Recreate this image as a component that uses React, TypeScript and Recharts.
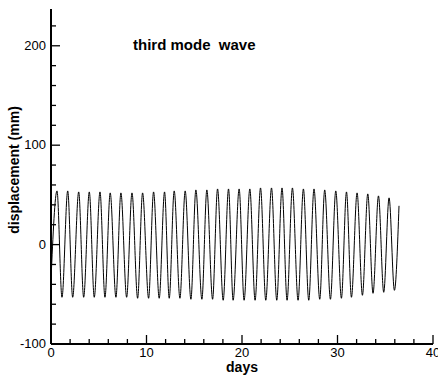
import React from 'react';
import { LineChart, Line, XAxis, YAxis } from 'recharts';

// extrema (day, displacement in mm)
const startDay = 0;
const startValue = -35;
const peakDays = [
  0.63, 1.75, 2.9, 4.01, 5.13, 6.2, 7.32, 8.48, 9.59, 10.74, 11.89, 12.9, 14.05, 15.17, 16.32, 17.44,
  18.59, 19.7, 20.82, 21.94, 23.09, 24.19, 25.28, 26.43, 27.54, 28.66, 29.82, 30.94, 32.05, 33.17, 34.29, 35.4,
];
const peakValues = [
  54, 54, 53, 53, 53, 52, 52, 52, 52, 53, 53, 54, 54, 55, 55, 56,
  56, 56, 56, 57, 57, 57, 57, 56, 56, 55, 54, 53, 52, 51, 49, 47,
];
const troughDays = [
  1.15, 2.27, 3.42, 4.53, 5.65, 6.8, 7.92, 9.07, 10.22, 11.33, 12.38, 13.5, 14.65, 15.8, 16.92, 18.03,
  19.07, 20.22, 21.37, 22.49, 23.64, 24.72, 25.87, 26.99, 28.14, 29.26, 30.41, 31.46, 32.61, 33.72, 34.84, 35.96,
];
const troughValues = [
  -53, -53, -53, -53, -53, -53, -53, -54, -54, -54, -54, -54, -55, -55, -55, -56,
  -56, -56, -56, -56, -56, -56, -56, -56, -55, -55, -54, -53, -51, -49, -48, -46,
];
const endDay = 36.44;
const endValue = 39;

const xTicks = [0, 2, 4, 6, 8, 10, 12, 14, 16, 18, 20, 22, 24, 26, 28, 30, 32, 34, 36, 38, 40];
const yTicks = [-100, -80, -60, -40, -20, 0, 20, 40, 60, 80, 100, 120, 140, 160, 180, 200, 220];

const points = [
  { day: startDay, disp: startValue },
  ...peakDays.map((d, i) => ({ day: d, disp: peakValues[i] })),
  ...troughDays.map((d, i) => ({ day: d, disp: troughValues[i] })),
  { day: endDay, disp: endValue },
].sort((a, b) => a.day - b.day);

const font = '"Liberation Sans", Arial, sans-serif';

const YTick = (props: any) => {
  const { x, y, payload } = props;
  const major = payload.value % 100 === 0;
  return (
    <g>
      <line x1={x} x2={x + (major ? 9 : 5)} y1={y} y2={y} stroke="#000" strokeWidth={1.3} />
      {major && (
        <text x={x - 5} y={y + 4} textAnchor="end" fontSize={13} fontFamily={font} fill="#000">
          {payload.value}
        </text>
      )}
    </g>
  );
};

const XTick = (props: any) => {
  const { x, y, payload } = props;
  const major = payload.value % 10 === 0;
  return (
    <g>
      <line x1={x} x2={x} y1={y} y2={y - (major ? 9 : 5)} stroke="#000" strokeWidth={1.3} />
      {major && (
        <text x={x} y={y + 13} textAnchor="middle" fontSize={13} fontFamily={font} fill="#000">
          {payload.value}
        </text>
      )}
    </g>
  );
};

export default function App() {
  return (
    <div style={{ position: 'absolute', left: 0, top: 0, width: 438, height: 381, background: '#fff' }}>
      <LineChart width={438} height={381} data={points} margin={{ top: 9, right: 5, left: 0, bottom: 0 }}>
        <XAxis
          dataKey="day"
          type="number"
          domain={[0, 40]}
          ticks={xTicks}
          interval={0}
          tickSize={0}
          tickMargin={0}
          height={37}
          tick={<XTick />}
          axisLine={{ stroke: '#000', strokeWidth: 2 }}
          tickLine={false}
        />
        <YAxis
          type="number"
          domain={[-100, 237]}
          ticks={yTicks}
          interval={0}
          tickSize={0}
          tickMargin={0}
          width={51}
          tick={<YTick />}
          axisLine={{ stroke: '#000', strokeWidth: 2 }}
          tickLine={false}
          allowDataOverflow
        />
        <Line
          type="monotone"
          dataKey="disp"
          stroke="#000"
          strokeWidth={1}
          dot={false}
          isAnimationActive={false}
        />
      </LineChart>
      <div
        style={{
          position: 'absolute', left: 133, top: 36, fontFamily: font, fontWeight: 'bold',
          fontSize: 15, whiteSpace: 'pre', color: '#000',
        }}
      >
        third mode  wave
      </div>
      <div
        style={{
          position: 'absolute', left: 242, top: 359, transform: 'translateX(-50%)', fontFamily: font,
          fontWeight: 'bold', fontSize: 14, color: '#000',
        }}
      >
        days
      </div>
      <div
        style={{
          position: 'absolute', left: 14, top: 170, transform: 'translate(-50%, -50%) rotate(-90deg)',
          fontFamily: font, fontWeight: 'bold', fontSize: 14, whiteSpace: 'nowrap', color: '#000',
        }}
      >
        displacement (mm)
      </div>
    </div>
  );
}
